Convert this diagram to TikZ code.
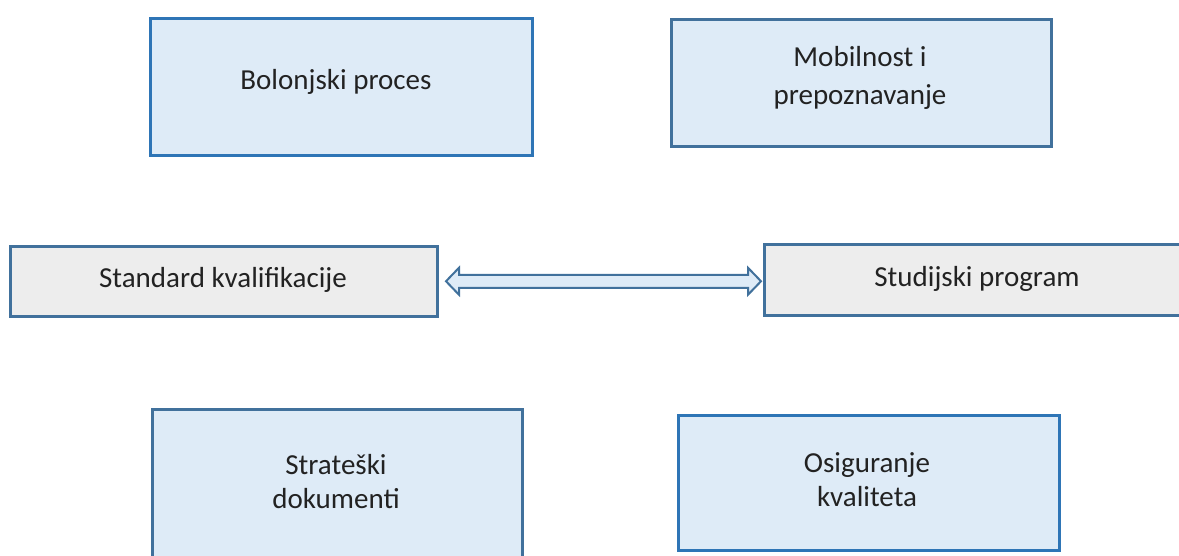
\documentclass[tikz,border=0pt]{standalone}
\usepackage{fontspec}
\setmainfont{Carlito}
\usetikzlibrary{calc}
\definecolor{bordA}{HTML}{41719C}
\definecolor{bordB}{HTML}{2E75B6}
\definecolor{fillblue}{HTML}{DEEBF7}
\definecolor{fillgrey}{HTML}{EDEDED}
\definecolor{txt}{HTML}{222222}
\begin{document}
\begin{tikzpicture}[x=1pt,y=1pt,
  box/.style={draw=bordA,line width=2.5pt,fill=fillblue,anchor=north west,inner sep=0pt},
  greybox/.style={box,fill=fillgrey},
  lbl/.style={font=\fontsize{29}{38}\selectfont,text=txt,align=center},
  lbltight/.style={font=\fontsize{29}{34}\selectfont,text=txt,align=center},
  darrow/.style={draw=bordA,fill=fillblue,line width=2pt,line join=miter}]
\useasboundingbox (0,0) rectangle (1179,-555);
\begin{scope}
\clip (0,0) rectangle (1179,-555);
% top row
\node[box,draw=bordB,minimum width=382pt,minimum height=137pt] (bp) at (149,-17) {};
\node[lbl] (bpt) at (336,-82) {Bolonjski proces};
\node[box,minimum width=380pt,minimum height=127pt] (mp) at (670,-18) {};
\node[lbl] (mpt) at (860,-78) {Mobilnost i\\prepoznavanje};
% middle row
\node[greybox,minimum width=427pt,minimum height=70pt] (sk) at (9,-245) {};
\node[lbl] (skt) at (223,-280) {Standard kvalifikacije};
\node[greybox,minimum width=430pt,minimum height=71pt] (sp) at (763,-243) {};
\node[lbl] (spt) at (977,-279) {Studijski program};
% double arrow between the two grey boxes
\path let \p1=($(sk.east)+(7.5pt,0)$), \p2=($(sp.west)+(-2pt,0)$) in
  [darrow] (\x1,\y1) -- ++(13,13.5) -- ++(0,-7) -- (\x2-13,\y1+6.5) -- ++(0,7)
  -- (\x2,\y1) -- ++(-13,-13.5) -- ++(0,7) -- (\x1+13,\y1-6.5) -- ++(0,-7) -- cycle;
% bottom row
\node[box,minimum width=370pt,minimum height=160pt] (sd) at (151,-408) {};
\node[lbltight] (sdt) at (336,-482) {Strateški\\dokumenti};
\node[box,draw=bordB,minimum width=381pt,minimum height=135pt] (ok) at (677,-414) {};
\node[lbltight] (okt) at (867,-480) {Osiguranje\\kvaliteta};
\end{scope}
\end{tikzpicture}
\end{document}
